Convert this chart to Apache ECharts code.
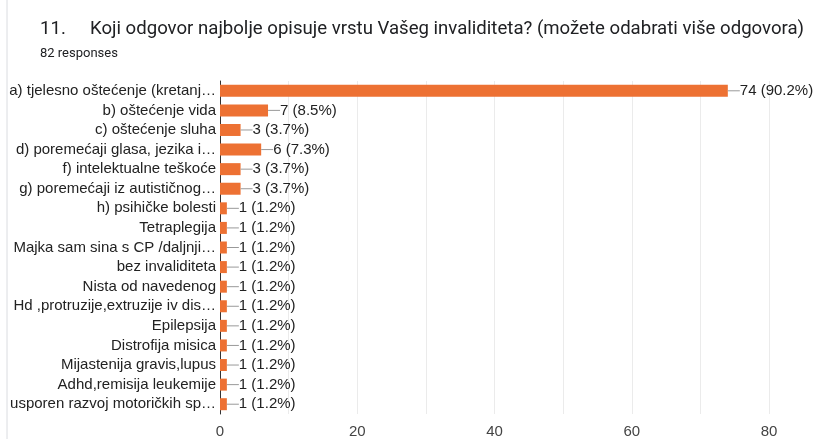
<!DOCTYPE html>
<html><head><meta charset="utf-8">
<script src="https://cdn.jsdelivr.net/npm/echarts@6/dist/echarts.min.js"></script>
<style>html,body{margin:0;padding:0;background:#fff}#c{width:819px;height:439px}</style>
</head><body><div id="c"></div>
<script>
const categories = [
  "a) tjelesno oštećenje (kretanj…",
  "b) oštećenje vida",
  "c) oštećenje sluha",
  "d) poremećaji glasa, jezika i…",
  "f) intelektualne teškoće",
  "g) poremećaji iz autističnog…",
  "h) psihičke bolesti",
  "Tetraplegija",
  "Majka sam sina s CP /daljnji…",
  "bez invaliditeta",
  "Nista od navedenog",
  "Hd ,protruzije,extruzije iv dis…",
  "Epilepsija",
  "Distrofija misica",
  "Mijastenija gravis,lupus",
  "Adhd,remisija leukemije",
  "usporen razvoj motoričkih sp…"
];
const counts = [74,7,3,6,3,3,1,1,1,1,1,1,1,1,1,1,1];
const percents = ["90.2","8.5","3.7","7.3","3.7","3.7","1.2","1.2","1.2","1.2","1.2","1.2","1.2","1.2","1.2","1.2","1.2"];
const xTicks = [0,20,40,60,80];

const chart = echarts.init(document.getElementById('c'));
chart.setOption({
  animation:false,
  backgroundColor:'#fff',
  title:[
    {text:'11.', left:35, top:15, textStyle:{fontFamily:'Roboto',fontSize:18.6,fontWeight:'normal',color:'#202124'}},
    {text:'Koji odgovor najbolje opisuje vrstu Vašeg invaliditeta? (možete odabrati više odgovora)', left:85, top:15, textStyle:{fontFamily:'Roboto',fontSize:18.6,fontWeight:'normal',color:'#202124'}},
    {text:'82 responses', left:35, top:42, textStyle:{fontFamily:'Roboto',fontSize:13,fontWeight:'normal',color:'#202124'}}
  ],
  graphic:[{type:'line',shape:{x1:7,y1:0,x2:7,y2:439},style:{stroke:'#dadce0',lineWidth:1}}],
  grid:{left:220,right:50,top:81,bottom:23,containLabel:false},
  xAxis:{type:'value',min:0,max:80,interval:10,
    axisLine:{show:false},axisTick:{show:false},
    splitLine:{lineStyle:{color:'#ebebeb'}},
    axisLabel:{color:'#444',fontFamily:'Liberation Sans',fontSize:15,margin:10,
      formatter:v=>xTicks.includes(v)?String(v):''}},
  yAxis:{type:'category',data:categories,inverse:true,
    axisLine:{lineStyle:{color:'#333'}},axisTick:{show:false},
    axisLabel:{color:'#222',fontFamily:'Liberation Sans',fontSize:15,margin:4}},
  series:[{type:'bar',data:counts,barWidth:12,
    itemStyle:{color:'#ed7133'},
    label:{show:true,position:'right',distance:0,
      formatter:p=>'{l|}{t|'+p.value+' ('+percents[p.dataIndex]+'%)}',
      rich:{l:{width:12,height:1,backgroundColor:'#999'},
            t:{color:'#222',fontFamily:'Liberation Sans',fontSize:15}}}}]
});
</script></body></html>
